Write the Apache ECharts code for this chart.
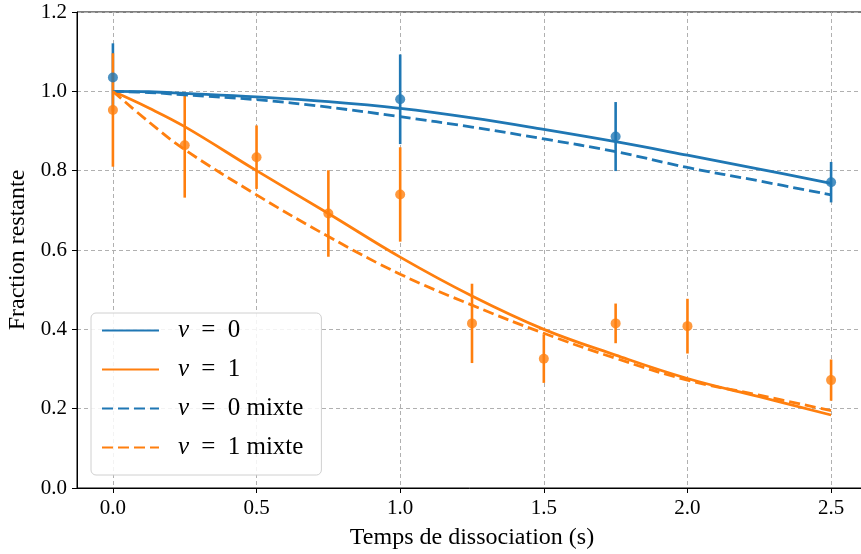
<!DOCTYPE html>
<html>
<head>
<meta charset="utf-8">
<script src="https://cdn.jsdelivr.net/npm/echarts@6/dist/echarts.min.js"></script>
<style>html,body{margin:0;padding:0;background:#fff}#c{width:861px;height:554px}</style>
</head>
<body>
<div id="c"></div>
<script>
// Fitted curves
const fitX = [0, 0.125, 0.25, 0.5, 0.75, 1.0, 1.25, 1.5, 1.75, 2.0, 2.25, 2.5];
const blueFit = [1.0, 0.999, 0.995, 0.986, 0.974, 0.957, 0.933, 0.904, 0.873, 0.839, 0.804, 0.768];
const orangeFit = [1.0, 0.958, 0.911, 0.800, 0.692, 0.582, 0.484, 0.400, 0.335, 0.276, 0.230, 0.184];
const blueMix = [1.0, 0.997, 0.991, 0.979, 0.960, 0.936, 0.910, 0.880, 0.848, 0.808, 0.774, 0.739];
const orangeMix = [1.0, 0.923, 0.853, 0.739, 0.634, 0.539, 0.461, 0.390, 0.327, 0.272, 0.234, 0.195];

// Experimental points with error bars
const expX0 = [0, 1.0, 1.75, 2.5];
const expY0 = [1.035, 0.980, 0.886, 0.771];
const expErr0 = [0.086, 0.113, 0.087, 0.051];
const expX1 = [0, 0.25, 0.5, 0.75, 1.0, 1.25, 1.5, 1.75, 2.0, 2.5];
const expY1 = [0.953, 0.864, 0.834, 0.692, 0.740, 0.415, 0.326, 0.415, 0.408, 0.272];
const expErr1 = [0.143, 0.132, 0.080, 0.109, 0.119, 0.100, 0.061, 0.050, 0.069, 0.052];

const xTicks = [0, 0.5, 1.0, 1.5, 2.0, 2.5];
const seriesNames = ['v = 0', 'v = 1', 'v = 0 mixte', 'v = 1 mixte'];

const BLUE = '#1f77b4', ORANGE = '#ff7f0e';
const FONT = 'Liberation Serif';

function pairs(xs, ys) { return xs.map((x, i) => [x, ys[i]]); }
function triples(xs, ys, es) { return xs.map((x, i) => [x, ys[i], es[i]]); }

function errSeries(data, color) {
  return {
    type: 'custom',
    data: data,
    encode: { x: 0, y: 1 },
    z: 2,
    renderItem: function (params, api) {
      const x = api.value(0), y = api.value(1), e = api.value(2);
      const p1 = api.coord([x, y - e]);
      const p2 = api.coord([x, y + e]);
      return {
        type: 'line',
        shape: { x1: p1[0], y1: p1[1], x2: p2[0], y2: p2[1] },
        style: { stroke: color, lineWidth: 2.6 }
      };
    }
  };
}
function dotSeries(data, color) {
  return {
    type: 'scatter', data: data, symbol: 'circle', symbolSize: 10,
    itemStyle: { color: color }, z: 3, silent: true
  };
}
function lineSeries(name, ys, color, dashed) {
  return {
    name: name, type: 'line', data: pairs(fitX, ys), smooth: 0.4,
    symbol: 'none', showSymbol: false, z: 4,
    lineStyle: { color: color, width: 2.8, type: dashed ? [11, 5] : 'solid' },
    itemStyle: { color: color }
  };
}

const chart = echarts.init(document.getElementById('c'));
chart.setOption({
  animation: false,
  backgroundColor: '#fff',
  grid: { left: 77, top: 12, right: -6, bottom: 66, outerBoundsMode: 'none', containLabel: false,
          show: true, borderColor: '#000', borderWidth: 1, backgroundColor: 'transparent' },
  xAxis: {
    type: 'value', min: -0.125, max: 2.625,
    name: 'Temps de dissociation (s)', nameLocation: 'middle', nameGap: 38,
    nameTextStyle: { fontFamily: FONT, fontSize: 24, color: '#000' },
    axisLine: { show: true, onZero: false, lineStyle: { color: '#000', width: 1 } },
    axisTick: { show: true, inside: false, length: 5, customValues: xTicks, lineStyle: { color: '#000' } },
    axisLabel: { customValues: xTicks, formatter: v => v.toFixed(1), fontFamily: FONT, fontSize: 21, color: '#000', margin: 10 },
    splitLine: { show: true, lineStyle: { color: '#b0b0b0', type: [4, 3], width: 1 } }
  },
  yAxis: {
    type: 'value', min: 0, max: 1.2, interval: 0.2,
    name: 'Fraction restante', nameLocation: 'middle', nameGap: 45,
    nameTextStyle: { fontFamily: FONT, fontSize: 24, color: '#000' },
    axisLine: { show: true, onZero: false, lineStyle: { color: '#000', width: 1 } },
    axisTick: { show: true, inside: false, length: 5, lineStyle: { color: '#000' } },
    axisLabel: { formatter: v => v.toFixed(1), fontFamily: FONT, fontSize: 21, color: '#000', margin: 10 },
    splitLine: { show: true, lineStyle: { color: '#b0b0b0', type: [4, 3], width: 1 } }
  },
  legend: {
    data: seriesNames,
    orient: 'vertical', left: 91, top: 313,
    itemWidth: 57, itemHeight: 14, itemGap: 14,
    padding: [5, 18, 15, 10],
    itemStyle: { opacity: 0 },
    backgroundColor: 'rgba(255,255,255,0.85)', borderColor: '#d0d0d0', borderWidth: 1, borderRadius: 5,
    formatter: function (name) {
      const parts = name.split(' = ');
      return '{i|' + parts[0] + '}{e| = }{t|' + parts[1] + '}';
    },
    textStyle: {
      fontFamily: FONT, fontSize: 25, color: '#000', lineHeight: 24, padding: [0, 0, 0, 14],
      rich: {
        i: { fontFamily: FONT, fontStyle: 'italic', fontSize: 25, lineHeight: 24, color: '#000' },
        e: { fontFamily: FONT, fontSize: 25, lineHeight: 24, color: '#000', padding: [0, 6, 0, 6] },
        t: { fontFamily: FONT, fontSize: 25, lineHeight: 24, color: '#000' }
      }
    }
  },
  series: [
    errSeries(triples(expX0, expY0, expErr0), BLUE),
    errSeries(triples(expX1, expY1, expErr1), ORANGE),
    dotSeries(pairs(expX0, expY0), BLUE),
    dotSeries(pairs(expX1, expY1), ORANGE),
    lineSeries(seriesNames[0], blueFit, BLUE, false),
    lineSeries(seriesNames[1], orangeFit, ORANGE, false),
    lineSeries(seriesNames[2], blueMix, BLUE, true),
    lineSeries(seriesNames[3], orangeMix, ORANGE, true)
  ]
});
</script>
</body>
</html>
